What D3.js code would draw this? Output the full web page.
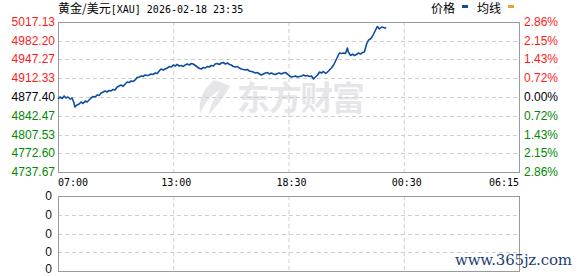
<!DOCTYPE html>
<html>
<head>
<meta charset="utf-8">
<script src="https://cdn.jsdelivr.net/npm/d3@7/dist/d3.min.js"></script>
<style>
  html, body { margin: 0; padding: 0; background: #fff; }
  svg { display: block; }
</style>
</head>
<body>
<div id="chart"></div>
<script>
// gold / usd intraday
const title = "黄金/美元";
const titleCode = "[XAU] 2026-02-18 23:35";
const legendNames = ["价格", "均线"];
const basePrice = 4877.40;

const priceTicks = [5017.13, 4982.20, 4947.27, 4912.33, 4877.40, 4842.47, 4807.53, 4772.60, 4737.67];
const timeTicks = ["07:00", "13:00", "18:30", "00:30", "06:15"];
const volumeTicks = [0, 0, 0, 0, 0];

const times = [
  "07:00", "07:06", "07:13", "07:19", "07:25", "07:31", "07:38", "07:44", "07:50", "07:53",
  "07:59", "08:06", "08:12", "08:18", "08:25", "08:31", "08:37", "08:43", "08:50", "08:56",
  "09:02", "09:08", "09:15", "09:21", "09:27", "09:33", "09:40", "09:46", "09:52", "09:58",
  "10:05", "10:11", "10:17", "10:23", "10:30", "10:36", "10:42", "10:48", "10:55", "11:01",
  "11:07", "11:14", "11:20", "11:26", "11:32", "11:39", "11:45", "11:51", "11:57", "12:04",
  "12:10", "12:16", "12:22", "12:29", "12:35", "12:41", "12:47", "12:54", "13:00", "13:06",
  "13:11", "13:17", "13:23", "13:29", "13:34", "13:40", "13:46", "13:52", "13:57", "14:03",
  "14:09", "14:15", "14:20", "14:26", "14:32", "14:37", "14:43", "14:49", "14:55", "15:00",
  "15:06", "15:12", "15:18", "15:23", "15:29", "15:35", "15:41", "15:46", "15:52", "15:58",
  "16:04", "16:09", "16:15", "16:21", "16:27", "16:32", "16:38", "16:44", "16:49", "16:55",
  "17:01", "17:07", "17:12", "17:18", "17:24", "17:30", "17:35", "17:41", "17:47", "17:52",
  "17:58", "18:04", "18:10", "18:15", "18:21", "18:27", "18:33", "18:39", "18:46", "18:52",
  "18:58", "19:04", "19:11", "19:17", "19:23", "19:29", "19:36", "19:42", "19:48", "19:54",
  "20:01", "20:07", "20:13", "20:19", "20:26", "20:32", "20:38", "20:44", "20:51", "20:57",
  "21:03", "21:09", "21:16", "21:22", "21:28", "21:34", "21:37", "21:44", "21:50", "21:56",
  "22:02", "22:09", "22:15", "22:21", "22:27", "22:34", "22:40", "22:46", "22:52", "22:59",
  "23:05", "23:08", "23:14", "23:21", "23:27", "23:33", "23:35"
];
const prices = [
  4873.7, 4877.4, 4874.6, 4879.3, 4875.5, 4877.4, 4873.7, 4875.5, 4866.2, 4858.8,
  4862.5, 4864.4, 4868.1, 4865.3, 4870.0, 4868.1, 4871.8, 4875.5, 4878.3, 4877.4,
  4881.0, 4880.1, 4884.8, 4886.6, 4888.6, 4886.7, 4889.5, 4888.6, 4891.4, 4890.5,
  4896.0, 4897.9, 4899.8, 4897.0, 4901.6, 4905.3, 4904.4, 4907.2, 4906.3, 4909.1,
  4913.7, 4914.7, 4916.5, 4915.6, 4918.4, 4917.5, 4918.4, 4920.3, 4919.3, 4922.1,
  4921.2, 4925.8, 4929.6, 4927.7, 4929.6, 4931.4, 4934.2, 4933.3, 4937.0, 4935.2,
  4938.0, 4935.2, 4936.1, 4934.2, 4937.0, 4938.9, 4937.0, 4939.8, 4938.9, 4936.1,
  4933.3, 4930.5, 4929.6, 4932.4, 4931.4, 4934.2, 4933.3, 4936.1, 4935.2, 4938.9,
  4939.8, 4938.0, 4940.7, 4941.7, 4938.9, 4940.7, 4938.0, 4937.0, 4934.2, 4933.3,
  4934.2, 4931.4, 4929.6, 4928.6, 4927.7, 4928.6, 4925.8, 4924.9, 4924.0, 4922.1,
  4923.0, 4920.3, 4918.4, 4920.3, 4922.1, 4923.0, 4920.3, 4922.1, 4920.3, 4919.3,
  4921.2, 4922.1, 4920.3, 4922.1, 4923.0, 4920.3, 4916.5, 4914.7, 4915.6, 4916.5,
  4914.7, 4915.6, 4916.5, 4918.4, 4916.5, 4917.5, 4915.6, 4916.5, 4910.9, 4914.7,
  4918.4, 4924.0, 4922.1, 4924.9, 4921.2, 4924.0, 4927.7, 4931.4, 4937.0, 4944.5,
  4951.9, 4959.4, 4958.4, 4959.4, 4958.4, 4968.7, 4961.2, 4954.7, 4957.5, 4954.7,
  4956.6, 4959.4, 4957.5, 4960.3, 4961.2, 4976.1, 4983.6, 4985.5, 4990.1, 4998.5,
  5005.9, 5008.7, 5004.1, 5007.8, 5006.9, 5005.9, 5005.0
];

const width = 578, height = 276;
const left = 58, right = 519;
const top1 = 22, bottom1 = 172;
const top2 = 196, bottom2 = 271;
const gridColor = "#cfcfcf", borderColor = "#9a9a9a";
const lineColor = "#0d4e9e";

// minutes after 07:00 (wraps past midnight)
function toMin(s) {
  let [h, m] = s.split(":").map(Number);
  let v = h * 60 + m - 420;
  return v < 0 ? v + 1440 : v;
}

const svg = d3.select("#chart").append("svg")
  .attr("width", width)
  .attr("height", height)
  .style("background", "#fff");

// axis labels sit at equal spacing, so the scale is piecewise
let x = d3.scaleLinear()
  .domain(timeTicks.map(toMin))
  .range(d3.range(timeTicks.length).map(i => left + i * (right - left) / (timeTicks.length - 1)));

let y = d3.scaleLinear()
  .domain([d3.min(priceTicks), d3.max(priceTicks)])
  .range([bottom1, top1]);

let yVol = d3.scalePoint()
  .domain(d3.range(volumeTicks.length))
  .range([top2, bottom2]);

// watermark
let wm = svg.append("g").attr("fill", "#e6e6ea");
wm.append("path")
  .attr("d", "M214,80 C204,88 198,100 200,114 C204,104 210,96 220,90 C214,98 210,106 209,115 C216,106 224,98 230,86 C226,84 220,82 214,80 Z");
wm.append("text")
  .attr("x", 237)
  .attr("y", 110)
  .attr("font-family", "Noto Sans CJK SC")
  .attr("font-weight", 700)
  .attr("font-size", 33)
  .attr("textLength", 128)
  .text("东方财富");

// grid
function grid(g, ys, y0, y1) {
  g.selectAll(".hg").data(ys).join("line")
    .attr("x1", left).attr("x2", right)
    .attr("y1", d => d).attr("y2", d => d)
    .attr("stroke", gridColor).attr("stroke-dasharray", "4,3");
  g.selectAll(".vg").data(timeTicks.slice(1, -1)).join("line")
    .attr("x1", d => x(toMin(d)) + 0.5).attr("x2", d => x(toMin(d)) + 0.5)
    .attr("y1", y0).attr("y2", y1)
    .attr("stroke", gridColor).attr("stroke-dasharray", "4,3");
}
let g1 = svg.append("g");
g1.append("g").call(grid, priceTicks.slice(1, -1).map(d => Math.round(y(d)) + 0.5), top1, bottom1);
let g2 = svg.append("g");
g2.append("g").call(grid, volumeTicks.map((d, i) => i).slice(1, -1).map(i => Math.round(yVol(i)) + 0.5), top2, bottom2);

// borders
[[top1, bottom1], [top2, bottom2]].forEach(([a, b]) => {
  svg.append("rect")
    .attr("x", left + 0.5).attr("y", a + 0.5)
    .attr("width", right - left).attr("height", b - a)
    .attr("fill", "none").attr("stroke", borderColor);
});

// price line
let line = d3.line()
  .x((d, i) => x(toMin(times[i])))
  .y(d => y(d));

svg.append("path")
  .datum(prices)
  .attr("fill", "none")
  .attr("stroke", lineColor)
  .attr("stroke-width", 1.6)
  .attr("stroke-linejoin", "round")
  .attr("d", line);

// left / right price labels
function tickColor(v) {
  return Math.abs(v - basePrice) < 0.005 ? "#000" : (v > basePrice ? "#ff1a1a" : "#008a00");
}
svg.append("g").selectAll("text").data(priceTicks).join("text")
  .attr("x", 55)
  .attr("y", d => y(d) + 4)
  .attr("text-anchor", "end")
  .attr("font-family", "Liberation Sans")
  .attr("font-size", 12)
  .attr("fill", tickColor)
  .text(d => d.toFixed(2));

svg.append("g").selectAll("text").data(priceTicks).join("text")
  .attr("x", 524)
  .attr("y", d => y(d) + 4)
  .attr("font-family", "Liberation Sans")
  .attr("font-size", 12)
  .attr("fill", tickColor)
  .text(d => (Math.abs(d - basePrice) / basePrice * 100).toFixed(2) + "%");

// time labels
svg.append("g").selectAll("text").data(timeTicks).join("text")
  .attr("x", (d, i) => i == 0 ? left : (i == timeTicks.length - 1 ? right : x(toMin(d)) + 3))
  .attr("y", 186)
  .attr("text-anchor", (d, i) => i == 0 ? "start" : (i == timeTicks.length - 1 ? "end" : "middle"))
  .attr("font-family", "DejaVu Sans Mono")
  .attr("font-size", 10)
  .attr("fill", "#000")
  .text(d => d);

// volume labels
svg.append("g").selectAll("text").data(volumeTicks).join("text")
  .attr("x", 52)
  .attr("y", (d, i) => Math.min(yVol(i) + 4, 273))
  .attr("text-anchor", "end")
  .attr("font-family", "Liberation Sans")
  .attr("font-size", 12)
  .attr("fill", "#111")
  .text(d => d);

// title + legend
let t = svg.append("text")
  .attr("x", left)
  .attr("y", 13);
t.append("tspan")
  .attr("font-family", "Noto Sans CJK SC")
  .attr("font-size", 12)
  .text(title);
t.append("tspan")
  .attr("font-family", "DejaVu Sans Mono")
  .attr("font-size", 10)
  .text(titleCode);

const legendX = [431, 477];
const legendColors = [lineColor, "#e0a82a"];
legendNames.forEach((n, i) => {
  svg.append("text")
    .attr("x", legendX[i]).attr("y", 13)
    .attr("font-family", "Noto Sans CJK SC")
    .attr("font-size", 12)
    .text(n);
  svg.append("rect")
    .attr("x", legendX[i] + 31).attr("y", 5)
    .attr("width", 6).attr("height", 3)
    .attr("fill", legendColors[i]);
});

// site mark
svg.append("text")
  .attr("x", 455)
  .attr("y", 265)
  .attr("font-family", "DejaVu Serif")
  .attr("font-size", 15)
  .attr("textLength", 117)
  .attr("fill", "#1d3f77")
  .text("www.365jz.com");
</script>
</body>
</html>
